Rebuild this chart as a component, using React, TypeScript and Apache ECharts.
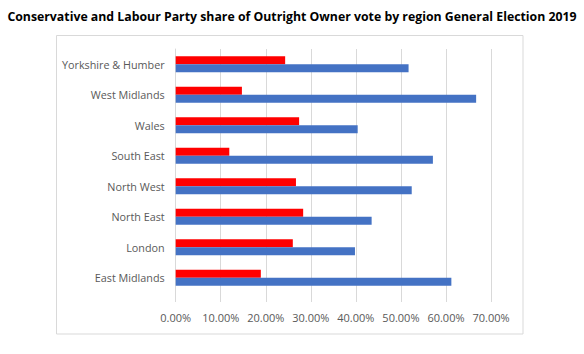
import React, { useEffect, useRef } from "react";
import * as echarts from "echarts";

const categories = [
  "East Midlands",
  "London",
  "North East",
  "North West",
  "South East",
  "Wales",
  "West Midlands",
  "Yorkshire & Humber",
];
const labourShare = [0.189, 0.26, 0.283, 0.267, 0.119, 0.274, 0.147, 0.243];
const conservativeShare = [0.612, 0.398, 0.435, 0.524, 0.571, 0.404, 0.667, 0.517];
const titleText =
  "Conservative and Labour Party share of Outright Owner vote by region General Election 2019";

export default function App() {
  const ref = useRef<HTMLDivElement>(null);
  useEffect(() => {
    if (!ref.current) return;
    const chart = echarts.init(ref.current, null, { renderer: "svg" });
    chart.setOption({
      animation: false,
      backgroundColor: "#ffffff",
      title: {
        text: titleText,
        left: "center",
        top: 5,
        textStyle: {
          fontFamily: "Open Sans",
          fontWeight: "bold",
          fontSize: 12.3,
          color: "#000000",
        },
      },
      graphic: [
        {
          type: "rect",
          shape: { x: 56.5, y: 35.5, width: 466.5, height: 298.5 },
          style: { fill: "none", stroke: "#d9d9d9", lineWidth: 1 },
          z: -1,
        },
      ],
      grid: { left: 175.7, right: 93, top: 49, bottom: 61, containLabel: false },
      xAxis: {
        type: "value",
        min: 0,
        max: 0.7,
        interval: 0.1,
        axisLine: { show: false },
        axisTick: { show: true, length: 9, lineStyle: { color: "#d9d9d9" } },
        splitLine: { show: true, lineStyle: { color: "#d9d9d9", width: 1 } },
        axisLabel: {
          margin: 19,
          color: "#595959",
          fontFamily: "Open Sans",
          fontSize: 11,
          formatter: (v: number) => (v * 100).toFixed(2) + "%",
        },
      },
      yAxis: {
        type: "category",
        data: categories,
        axisLine: { show: true, lineStyle: { color: "#d9d9d9" } },
        axisTick: { show: false },
        axisLabel: {
          margin: 11,
          color: "#595959",
          fontFamily: "Open Sans",
          fontSize: 10.8,
        },
      },
      series: [
        {
          name: "Labour",
          type: "bar",
          data: labourShare,
          itemStyle: { color: "#ff0000" },
          barGap: "0%",
          barCategoryGap: "47%",
        },
        {
          name: "Conservative",
          type: "bar",
          data: conservativeShare,
          itemStyle: { color: "#4472c4" },
          barGap: "0%",
          barCategoryGap: "47%",
        },
      ],
    });
    return () => chart.dispose();
  }, []);
  return (
    <div
      ref={ref}
      style={{ position: "absolute", left: 0, top: 0, width: 584, height: 354 }}
    />
  );
}
